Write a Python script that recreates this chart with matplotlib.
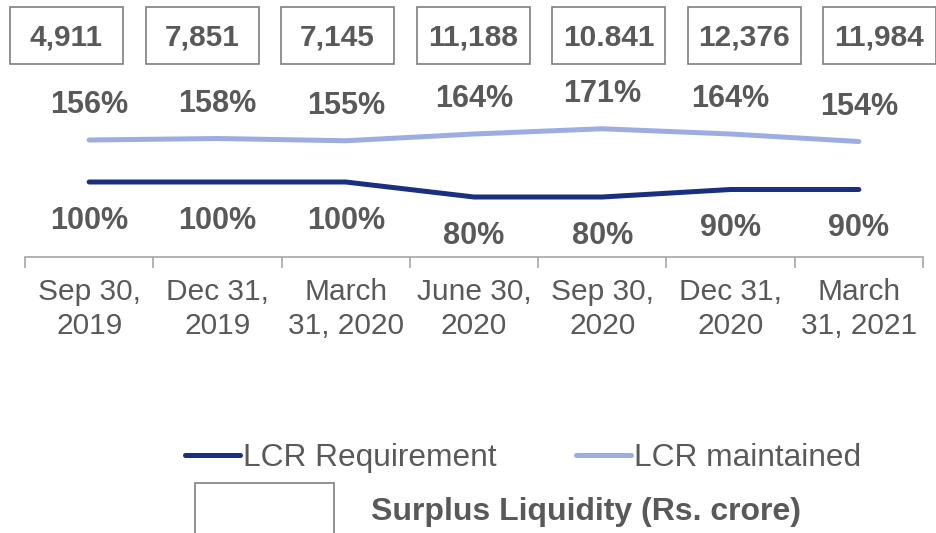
import matplotlib
matplotlib.use("Agg")
import matplotlib.pyplot as plt
from matplotlib.lines import Line2D
from matplotlib.patches import Rectangle
from matplotlib.ticker import FixedLocator

plt.rcParams["font.family"] = ["Liberation Sans", "DejaVu Sans"]

# ---- data ----
periods = ["Sep 30,\n2019", "Dec 31,\n2019", "March\n31, 2020", "June 30,\n2020",
           "Sep 30,\n2020", "Dec 31,\n2020", "March\n31, 2021"]
lcr_requirement = [100, 100, 100, 80, 80, 90, 90]
lcr_maintained = [156, 158, 155, 164, 171, 164, 154]
surplus_liquidity = ["4,911", "7,851", "7,145", "11,188", "10.841", "12,376", "11,984"]

DARK = "#1B2F80"
LIGHT = "#9DADE2"
GREY_TXT = "#595959"
AXIS = "#A6A6A6"
W, H = 936, 533

fig = plt.figure(figsize=(W / 100, H / 100), dpi=100)
ax = fig.add_axes([25 / W, 1 - 257 / H, 898 / W, 257 / H])
x = list(range(len(periods)))

ax.plot(x, lcr_maintained, color=LIGHT, lw=3.6, solid_capstyle="round", solid_joinstyle="round")
ax.plot(x, lcr_requirement, color=DARK, lw=3.6, solid_capstyle="round", solid_joinstyle="round")

for xi, v in zip(x, lcr_maintained):
    ax.annotate(f"{v}%", (xi, v), xytext=(0, 25), textcoords="offset points",
                ha="center", va="center", fontsize=22, fontweight="bold", color=GREY_TXT)
for xi, v in zip(x, lcr_requirement):
    ax.annotate(f"{v}%", (xi, v), xytext=(0, -28), textcoords="offset points",
                ha="center", va="center", fontsize=22, fontweight="bold", color=GREY_TXT)

ax.set_xlim(-0.5, len(periods) - 0.5)
ax.set_ylim(0, 257 / 0.75)
ax.set_xticks(x)
ax.set_xticklabels(periods, fontsize=21.5, color=GREY_TXT, linespacing=1.3)
ax.xaxis.set_minor_locator(FixedLocator([i - 0.5 for i in range(len(periods) + 1)]))
ax.tick_params(axis="x", which="major", length=0, pad=15)
ax.tick_params(axis="x", which="minor", length=8, width=1.2, color=AXIS)
ax.set_yticks([])
for s in ["top", "right", "left"]:
    ax.spines[s].set_visible(False)
ax.spines["bottom"].set_color(AXIS)
ax.spines["bottom"].set_linewidth(1.2)
ax.patch.set_alpha(0)

# surplus liquidity boxes along the top
bx0, bstep, bw, by0, by1 = 10, 135.5, 113, 7, 64
for i, s in enumerate(surplus_liquidity):
    left = bx0 + i * bstep
    fig.patches.append(Rectangle((left / W, 1 - by1 / H), bw / W, (by1 - by0) / H,
                                 transform=fig.transFigure, fc="white", ec="#7F7F7F", lw=1.2))
    fig.text((left + bw / 2) / W, 1 - 37.5 / H, s, ha="center", va="center",
             fontsize=21.5, fontweight="bold", color=GREY_TXT)

# legend
handles = [Line2D([], [], color=DARK, lw=3.6, solid_capstyle="round"),
           Line2D([], [], color=LIGHT, lw=3.6, solid_capstyle="round")]
leg = fig.legend(handles, ["LCR Requirement", "LCR maintained"], loc="center",
                 bbox_to_anchor=(523 / W, 1 - 458 / H), ncol=2, frameon=False, fontsize=22.8,
                 handlelength=1.75, handletextpad=0.1, columnspacing=2.5, labelcolor=GREY_TXT)

fig.patches.append(Rectangle((195 / W, 1 - 541 / H), 139 / W, 58 / H, transform=fig.transFigure,
                             fc="white", ec="#7F7F7F", lw=1.2))
fig.text(371 / W, 1 - 512 / H, "Surplus Liquidity (Rs. crore)", ha="left", va="center",
         fontsize=23, fontweight="bold", color=GREY_TXT)

fig.savefig("out.png", dpi=100)
